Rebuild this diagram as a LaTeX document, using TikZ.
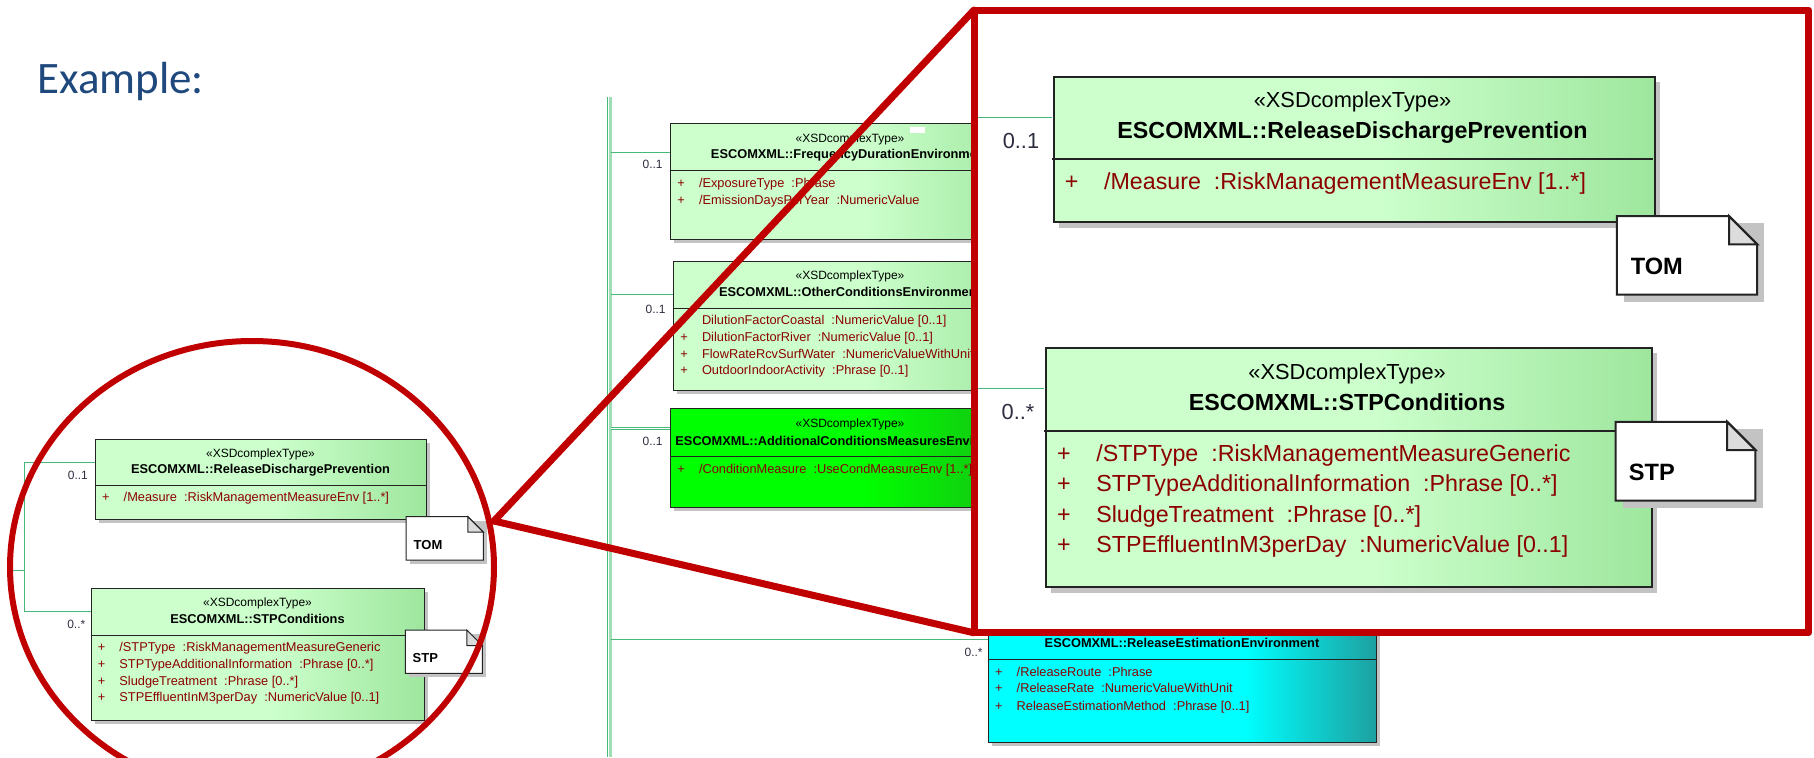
\documentclass[tikz,border=0pt]{standalone}
\usepackage{fontspec}
\setmainfont{Liberation Sans}
\newfontfamily\titlefont{Carlito}

\definecolor{titleblue}{RGB}{31,73,125}
\definecolor{zoomred}{RGB}{192,0,0}
\definecolor{assocgreen}{RGB}{70,185,120}
\definecolor{busgreen}{RGB}{160,220,180}
\definecolor{lgA}{RGB}{204,255,204}
\definecolor{lgB}{RGB}{158,230,158}
\definecolor{bgA}{RGB}{0,255,0}
\definecolor{bgB}{RGB}{24,185,24}
\definecolor{cyA}{RGB}{0,255,255}
\definecolor{cyB}{RGB}{30,160,160}
\definecolor{attrred}{RGB}{140,0,0}
\definecolor{multgray}{RGB}{45,45,65}
\definecolor{boxline}{RGB}{35,35,35}
\definecolor{shadowgray}{RGB}{195,195,195}
\definecolor{foldgray}{RGB}{220,220,220}

\pgfdeclarehorizontalshading{umlgreen}{100bp}{color(0bp)=(lgA); color(25bp)=(lgA); color(52bp)=(lgA); color(75bp)=(lgB); color(100bp)=(lgB)}
\pgfdeclarehorizontalshading{umllime}{100bp}{color(0bp)=(bgA); color(25bp)=(bgA); color(52bp)=(bgA); color(75bp)=(bgB); color(100bp)=(bgB)}
\pgfdeclarehorizontalshading{umlcyan}{100bp}{color(0bp)=(cyA); color(25bp)=(cyA); color(58bp)=(cyA); color(75bp)=(cyB); color(100bp)=(cyB)}

\newcommand{\attrplus}{\makebox[10.8pt][l]{+}}

\tikzset{
    umlbox/.style={draw=boxline, line width=0.5pt, anchor=north west, inner sep=0pt},
    lightbox/.style={umlbox, shading=umlgreen},
    limebox/.style={umlbox, shading=umllime},
    cyanbox/.style={umlbox, shading=umlcyan},
    boxshadow/.style={fill=shadowgray},
    stereo/.style={anchor=base, inner sep=0pt, text=black, font=\fontsize{6}{7}\selectfont},
    clsname/.style={anchor=base, inner sep=0pt, text=black, font=\fontsize{6.4}{7}\selectfont\bfseries},
    attr/.style={anchor=base west, inner sep=0pt, text=attrred, font=\fontsize{6.4}{7}\selectfont},
    mult/.style={anchor=base east, inner sep=0pt, text=multgray, font=\fontsize{6}{7}\selectfont},
    notebody/.style={draw=boxline, fill=white},
    notefold/.style={draw=boxline, fill=foldgray},
    notetext/.style={anchor=base west, inner sep=0pt, font=\fontsize{6.5}{7}\selectfont\bfseries},
    assoc/.style={draw=assocgreen, line width=0.5pt},
    busline/.style={draw=busgreen, line width=1.5pt},
    zoomline/.style={draw=zoomred, line width=3.5pt, line join=round, line cap=round}
}

% the magnified part: #1 name prefix, #2 box lines, #3 connectors
\newcommand{\detailpanel}[3]{%
    \fill[boxshadow] (4, 4) rectangle (335, 84);
    \node[lightbox, line width=#2, minimum width=165.5pt, minimum height=40pt] (#1-rdp) at (0, 0) {};
    \draw[boxline, line width=#2] (0, 46.3) -- (331, 46.3);
    \node[stereo] (#1-rdp-st) at (165.5, 18) {«XSDcomplexType»};
    \node[clsname] (#1-rdp-nm) at (165.5, 34.8) {ESCOMXML::ReleaseDischargePrevention};
    \node[attr] (#1-rdp-a1) at (6.7, 62.8) {\attrplus/Measure\ \ :RiskManagementMeasureEnv [1..*]};

    \fill[boxshadow] (-0.3, 153.3) rectangle (333.3, 285);
    \node[lightbox, line width=#2, minimum width=166.8pt, minimum height=65.85pt] (#1-stp) at (-4.3, 149.3) {};
    \draw[boxline, line width=#2] (-4.3, 196) -- (329.3, 196);
    \node[stereo] (#1-stp-st) at (162.5, 167.6) {«XSDcomplexType»};
    \node[clsname] (#1-stp-nm) at (162.5, 184.5) {ESCOMXML::STPConditions};
    \foreach \txt [count=\i] in {/STPType\ \ :RiskManagementMeasureGeneric,
            STPTypeAdditionalInformation\ \ :Phrase [0..*],
            SludgeTreatment\ \ :Phrase [0..*],
            STPEffluentInM3perDay\ \ :NumericValue [0..1]}
        \node[attr] (#1-stp-a\i) at (2.4, {196.1+16.7*\i}) {\attrplus\txt};

    \coordinate (#1-stub) at (-83, 131);
    \coordinate (#1-split) at (-70.7, 131);
    \coordinate (#1-rdp-port) at (0, 23.3);
    \coordinate (#1-stp-port) at (-4.3, 172.7);
    \draw[assoc, line width=#3] (#1-rdp-port) -| (#1-split) |- (#1-stp-port);
    \draw[assoc, line width=#3] (#1-stub) -- (#1-split);
    \node[mult] (#1-m1) at (-6.7, 40.5) {0..1};
    \node[mult] (#1-m2) at (-9.3, 189.5) {0..*};

    \fill[boxshadow] (315, 81.7) rectangle (392.3, 125);
    \filldraw[notebody, line width=#2] (311, 77.7) -- (372.8, 77.7) -- (388.3, 93.2) -- (388.3, 121) -- (311, 121) -- cycle;
    \filldraw[notefold, line width=#2] (372.8, 77.7) -- (372.8, 93.2) -- (388.3, 93.2) -- cycle;
    \node[notetext] (#1-tom) at (318.3, 110) {TOM};

    \fill[boxshadow] (314.3, 195) rectangle (391.3, 238.3);
    \filldraw[notebody, line width=#2] (310.3, 191) -- (371.8, 191) -- (387.3, 206.5) -- (387.3, 234.3) -- (310.3, 234.3) -- cycle;
    \filldraw[notefold, line width=#2] (371.8, 191) -- (371.8, 206.5) -- (387.3, 206.5) -- cycle;
    \node[notetext] (#1-stpnote) at (317.3, 223.5) {STP};
}

\begin{document}
\begin{tikzpicture}[x=0.5pt, y=-0.5pt]
    \useasboundingbox (0, 0) rectangle (1814, 757);

    \node[font=\titlefont\fontsize{22.5}{27}\selectfont, text=titleblue, anchor=base west, inner sep=0pt]
        (title) at (37, 93) {Example:};

    \coordinate (bus-top) at (610, 97);
    \coordinate (bus-bot) at (610, 757);
    \draw[busline] (bus-top) -- (bus-bot);
    \draw[assoc] ([xshift=-1.5pt]bus-top) -- ([xshift=-1.5pt]bus-bot);

    % FrequencyDurationEnvironment
    \fill[boxshadow] (674, 127) rectangle (1034, 243);
    \node[lightbox, minimum width=180pt, minimum height=58pt] (fde) at (670, 123) {};
    \draw[boxline, line width=0.5pt] (670, 170) -- (1030, 170);
    \node[stereo] (fde-st) at (850, 142.5) {«XSDcomplexType»};
    \node[clsname] (fde-nm) at (850, 158.5) {ESCOMXML::FrequencyDurationEnvironment};
    \node[attr] (fde-a1) at (677, 187.5) {\attrplus/ExposureType\ \ :Phrase};
    \node[attr] (fde-a2) at (677, 204.5) {\attrplus/EmissionDaysPerYear\ \ :NumericValue};
    \fill[white] (910, 127) rectangle (925, 133);
    \coordinate (bus-fde) at (611, 152);
    \coordinate (fde-port) at (670, 152);
    \draw[assoc] (bus-fde) -- (fde-port);
    \node[mult] (fde-m) at (663, 168.5) {0..1};

    % OtherConditionsEnvironment
    \fill[boxshadow] (677, 265) rectangle (1031, 394);
    \node[lightbox, minimum width=177pt, minimum height=64.5pt] (oce) at (673, 261) {};
    \draw[boxline, line width=0.5pt] (673, 308) -- (1027, 308);
    \node[stereo] (oce-st) at (850, 279.5) {«XSDcomplexType»};
    \node[clsname] (oce-nm) at (850, 296.5) {ESCOMXML::OtherConditionsEnvironment};
    \node[attr] (oce-a1) at (680, 324.5) {\attrplus DilutionFactorCoastal\ \ :NumericValue [0..1]};
    \node[attr] (oce-a2) at (680, 341.5) {\attrplus DilutionFactorRiver\ \ :NumericValue [0..1]};
    \node[attr] (oce-a3) at (680, 358.5) {\attrplus FlowRateRcvSurfWater\ \ :NumericValueWithUnit};
    \node[attr] (oce-a4) at (680, 374.5) {\attrplus OutdoorIndoorActivity\ \ :Phrase [0..1]};
    \coordinate (bus-oce) at (611, 294);
    \coordinate (oce-port) at (673, 294);
    \draw[assoc] (bus-oce) -- (oce-port);
    \node[mult] (oce-m) at (666, 313.5) {0..1};

    % AdditionalConditionsMeasuresEnvironment
    \fill[boxshadow] (674, 412) rectangle (1034, 511);
    \node[limebox, minimum width=180pt, minimum height=49.5pt] (acme) at (670, 408) {};
    \draw[boxline, line width=0.5pt] (670, 456) -- (1030, 456);
    \node[stereo] (acme-st) at (850, 427.5) {«XSDcomplexType»};
    \node[clsname] (acme-nm) at (850, 445.5) {ESCOMXML::AdditionalConditionsMeasuresEnvironment};
    \node[attr] (acme-a1) at (677, 473.5) {\attrplus/ConditionMeasure\ \ :UseCondMeasureEnv [1..*]};
    \coordinate (bus-acme) at (611, 428.5);
    \coordinate (acme-port) at (670, 428.5);
    \draw[assoc, line width=0.4pt, double=white, double distance=0.6pt] (bus-acme) -- (acme-port);
    \node[mult] (acme-m) at (663, 445.5) {0..1};

    % ReleaseEstimationEnvironment
    \fill[boxshadow] (992, 616) rectangle (1380, 746);
    \node[cyanbox, minimum width=194pt, minimum height=65pt] (ree) at (988, 612) {};
    \draw[boxline, line width=0.5pt] (988, 659.3) -- (1376, 659.3);
    \node[clsname] (ree-nm) at (1182, 647.5) {ESCOMXML::ReleaseEstimationEnvironment};
    \node[attr] (ree-a1) at (994.7, 676) {\attrplus/ReleaseRoute\ \ :Phrase};
    \node[attr] (ree-a2) at (994.7, 692.8) {\attrplus/ReleaseRate\ \ :NumericValueWithUnit};
    \node[attr] (ree-a3) at (994.7, 710.5) {\attrplus ReleaseEstimationMethod\ \ :Phrase [0..1]};
    \coordinate (bus-ree) at (611, 639.3);
    \coordinate (ree-port) at (988, 639.3);
    \draw[assoc] (bus-ree) -- (ree-port);
    \node[mult] (ree-m) at (983, 656) {0..*};

    % small view inside the lens
    \begin{scope}[shift={(95, 439)}]
        \detailpanel{s}{0.5pt}{0.5pt}
    \end{scope}
    \coordinate (lens-c) at (252, 567);
    \draw[zoomline, line width=3pt] (lens-c) ellipse [x radius=121pt, y radius=113pt];

    % magnified view
    \node[fill=white, minimum width=417pt, minimum height=311pt, anchor=north west, inner sep=0pt]
        (zoomframe) at (974, 10) {};
    \begin{scope}
        \clip (978, 14) rectangle (1804, 628);
        \begin{scope}[shift={(1052, 75)}, scale=1.816, transform shape]
            \detailpanel{b}{1pt}{0.6pt}
        \end{scope}
    \end{scope}
    \draw[zoomline] (zoomframe.north west) rectangle (zoomframe.south east);

    \coordinate (lens-tip) at (494, 521);
    \draw[zoomline] (lens-tip) -- (zoomframe.north west);
    \draw[zoomline] (lens-tip) -- (zoomframe.south west);
\end{tikzpicture}
\end{document}
